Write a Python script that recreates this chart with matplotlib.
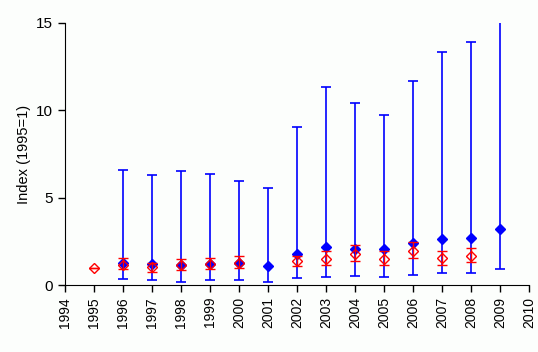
import numpy as np
import matplotlib
matplotlib.use('Agg')
import matplotlib.pyplot as plt

plt.rcParams['font.family'] = ['Liberation Sans', 'DejaVu Sans']

# Blue series (filled diamonds) with wide ranges
blue_years = [1996, 1997, 1998, 1999, 2000, 2001, 2002, 2003, 2004, 2005, 2006, 2007, 2008, 2009]
blue_vals = [1.24, 1.22, 1.16, 1.18, 1.24, 1.11, 1.79, 2.18, 2.08, 2.04, 2.42, 2.61, 2.71, 3.19]
blue_low = [0.33, 0.27, 0.19, 0.27, 0.27, 0.19, 0.38, 0.46, 0.52, 0.46, 0.57, 0.67, 0.67, 0.90]
blue_high = [6.56, 6.30, 6.51, 6.35, 5.93, 5.53, 9.03, 11.32, 10.40, 9.73, 11.69, 13.32, 13.89, 16.5]

# Red series (open diamonds) with narrow ranges
red_years = [1995, 1996, 1997, 1998, 1999, 2000, 2002, 2003, 2004, 2005, 2006, 2007, 2008]
red_vals = [1.00, 1.16, 1.01, 1.14, 1.18, 1.28, 1.37, 1.49, 1.77, 1.49, 1.97, 1.53, 1.66]
red_low = [1.00, 0.90, 0.73, 0.84, 0.90, 0.97, 1.07, 1.13, 1.36, 1.15, 1.53, 1.13, 1.30]
red_high = [1.00, 1.53, 1.28, 1.47, 1.53, 1.64, 1.68, 1.93, 2.27, 1.93, 2.46, 1.93, 2.10]

x_ticks = list(range(1994, 2011))
y_ticks = [0, 5, 10, 15]

bg = '#fcfefc'
fig = plt.figure(figsize=(5.38, 3.52), dpi=100, facecolor=bg)
ax = fig.add_axes([0.121, 0.190, 0.862, 0.745], facecolor=bg)

bv = np.array(blue_vals)
ax.errorbar(blue_years, bv, yerr=[bv - np.array(blue_low), np.array(blue_high) - bv],
            fmt='D', color='#0000ff', ecolor='#0000ff', markersize=5,
            elinewidth=1.2, capsize=3.5, capthick=1.2, zorder=2)

rv = np.array(red_vals)
ax.errorbar(red_years, rv, yerr=[rv - np.array(red_low), np.array(red_high) - rv],
            fmt='D', color='#ff0000', ecolor='#ff0000', markersize=5.5,
            markerfacecolor='none', markeredgewidth=1.0,
            elinewidth=1.0, capsize=3.5, capthick=1.0, zorder=3)

ax.set_xlim(1994, 2010)
ax.set_ylim(0, 15)
ax.set_xticks(x_ticks)
ax.set_xticklabels([str(x) for x in x_ticks], rotation=90, fontsize=10)
ax.set_yticks(y_ticks)
ax.set_yticklabels([str(y) for y in y_ticks], fontsize=11)
ax.set_ylabel('Index (1995=1)', fontsize=10.5)
ax.spines['top'].set_visible(False)
ax.spines['right'].set_visible(False)
ax.tick_params(direction='out', length=5, width=1, colors='black')

plt.savefig('out.png', dpi=100, facecolor=bg)
